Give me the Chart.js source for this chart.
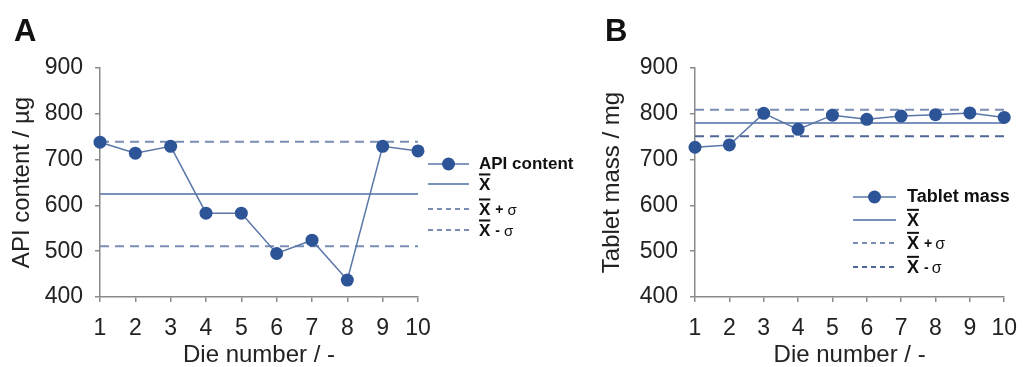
<!DOCTYPE html>
<html>
<head>
<meta charset="utf-8">
<script src="https://cdn.jsdelivr.net/npm/chart.js@4.4.1/dist/chart.umd.min.js"></script>
<style>
    html, body { margin: 0; padding: 0; background: #fff; }
    #wrap { position: relative; width: 1030px; height: 367px; overflow: hidden; }
    #chart-a { position: absolute; left: 0; top: 0; }
    #chart-b { position: absolute; left: 515px; top: 0; }
</style>
</head>
<body>
<div id="wrap">
    <canvas id="chart-a" width="600" height="367"></canvas>
    <canvas id="chart-b" width="515" height="367"></canvas>
</div>
<script>
// Data
const dieNumbers = [1, 2, 3, 4, 5, 6, 7, 8, 9, 10];
const apiContent = [738, 714, 729, 583, 583, 495, 524, 437, 729, 719];
const apiMean = 625;
const apiPlusSigma = 739;
const apiMinusSigma = 511;
const tabletMass = [727, 732, 801, 766, 797, 788, 795, 798, 802, 792];
const massMean = 780;
const massPlusSigma = 809;
const massMinusSigma = 751;
const yMin = 400;
const yMax = 900;
const yStep = 100;

const FONT = '"Liberation Sans", Arial, sans-serif';
const POINT_BLUE = '#2d5497';
const LINE_BLUE = '#5a77a8';
const MEAN_BLUE = '#4c6ea6';
const DASH_BLUE = '#7a8db5';
const AXIS_GREY = '#8a8a8a';

function toPoints(values) {
    return values.map((v, i) => ({ x: dieNumbers[i], y: v }));
}

function flatLine(value) {
    return [{ x: dieNumbers[0], y: value }, { x: dieNumbers[dieNumbers.length - 1], y: value }];
}

function makeDatasets(label, values, mean, plus, minus, minusColor) {
    return [
        {
            label: label,
            data: toPoints(values),
            borderColor: LINE_BLUE,
            borderWidth: 1.5,
            backgroundColor: POINT_BLUE,
            pointBackgroundColor: POINT_BLUE,
            pointBorderColor: POINT_BLUE,
            pointRadius: 6.5,
            pointBorderWidth: 0,
            clip: false,
            order: 0
        },
        { label: 'mean', data: flatLine(mean), borderColor: MEAN_BLUE, borderWidth: 1.6, pointRadius: 0, clip: false, order: 1 },
        { label: 'plus', data: flatLine(plus), borderColor: DASH_BLUE, borderWidth: 2, borderDash: [9, 6], pointRadius: 0, clip: false, order: 1 },
        { label: 'minus', data: flatLine(minus), borderColor: minusColor, borderWidth: 2, borderDash: [9, 6], pointRadius: 0, clip: false, order: 1 }
    ];
}

function makeScales(yTitle, yWidth) {
    return {
        x: {
            type: 'linear',
            min: 1,
            max: 10,
            ticks: { stepSize: 1, font: { size: 23, family: FONT }, color: '#222', padding: 13, maxRotation: 0 },
            grid: { drawOnChartArea: false, tickLength: 5, color: AXIS_GREY, lineWidth: 1.5 },
            border: { color: AXIS_GREY, width: 1.5 },
            title: { display: true, text: 'Die number / -', font: { size: 24, family: FONT, lineHeight: 1 }, color: '#222', padding: { top: 0, bottom: 0 } },
            afterFit: function(scale) { scale.height = 70; }
        },
        y: {
            min: yMin,
            max: yMax,
            ticks: { stepSize: yStep, font: { size: 23, family: FONT }, color: '#222', padding: 12 },
            grid: { drawOnChartArea: false, tickLength: 5, color: AXIS_GREY, lineWidth: 1.5 },
            border: { color: AXIS_GREY, width: 1.5 },
            title: { display: true, text: yTitle, font: { size: 24, family: FONT, lineHeight: 1 }, color: '#222', padding: { top: 0, bottom: 10 } },
            afterFit: function(scale) { scale.width = yWidth; }
        }
    };
}

// Panel letter and a hand drawn legend (the X-bar labels need an overline)
const panelDecor = {
    id: 'panelDecor',
    afterDraw(chart, args, opts) {
        const ctx = chart.ctx;
        ctx.save();
        ctx.fillStyle = '#111';
        ctx.font = 'bold 31px ' + FONT;
        ctx.textBaseline = 'alphabetic';
        ctx.fillText(opts.letter, opts.letterX, 41);

        const lg = opts.legend;
        lg.rows.forEach(row => {
            const ds = chart.data.datasets[row.ds];
            ctx.strokeStyle = ds.borderColor;
            ctx.lineWidth = ds.borderWidth;
            ctx.setLineDash(ds.borderDash ? [5, 4] : []);
            ctx.beginPath();
            ctx.moveTo(lg.x0, row.y);
            ctx.lineTo(lg.x1, row.y);
            ctx.stroke();
            ctx.setLineDash([]);
            if (ds.pointRadius > 0) {
                ctx.fillStyle = ds.pointBackgroundColor;
                ctx.beginPath();
                ctx.arc((lg.x0 + lg.x1) / 2, row.y, ds.pointRadius, 0, Math.PI * 2);
                ctx.fill();
            }
            ctx.fillStyle = '#111';
            ctx.textBaseline = 'middle';
            if (row.text) {
                ctx.font = 'bold ' + lg.size + 'px ' + FONT;
                ctx.fillText(row.text, lg.tx, row.y);
            } else {
                ctx.font = 'bold ' + lg.size + 'px ' + FONT;
                const w = ctx.measureText('X').width;
                ctx.fillText('X', lg.tx, row.y + 1);
                ctx.fillRect(lg.tx, row.y - lg.size * 0.62, w, 2);
                if (row.suffix) {
                    let x = lg.tx + w + lg.gap;
                    ctx.font = 'bold ' + Math.round(lg.size * 0.8) + 'px ' + FONT;
                    ctx.fillText(row.suffix, x, row.y + 1);
                    x += ctx.measureText(row.suffix).width + lg.sigmaGap;
                    ctx.font = Math.round(lg.size * 0.9) + 'px ' + FONT;
                    ctx.fillText('\u03c3', x, row.y + 2);
                }
            }
        });
        ctx.restore();
    }
};

function baseOptions(padding, scales, decor) {
    return {
        responsive: false,
        animation: false,
        layout: { padding: padding },
        scales: scales,
        plugins: {
            legend: { display: false },
            tooltip: { enabled: false },
            panelDecor: decor
        }
    };
}

new Chart(document.getElementById('chart-a').getContext('2d'), {
    type: 'line',
    data: { datasets: makeDatasets('API content', apiContent, apiMean, apiPlusSigma, apiMinusSigma, DASH_BLUE) },
    options: baseOptions(
        { left: 10, right: 182, top: 68, bottom: 0 },
        makeScales('API content / \u00b5g', 90),
        {
            letter: 'A', letterX: 14,
            legend: {
                x0: 428, x1: 469, tx: 479, size: 17, gap: 5, sigmaGap: 4,
                rows: [
                    { ds: 0, y: 164, text: 'API content' },
                    { ds: 1, y: 184 },
                    { ds: 2, y: 209, suffix: '+' },
                    { ds: 3, y: 230, suffix: '-', }
                ]
            }
        }
    ),
    plugins: [panelDecor]
});

new Chart(document.getElementById('chart-b').getContext('2d'), {
    type: 'line',
    data: { datasets: makeDatasets('Tablet mass', tabletMass, massMean, massPlusSigma, massMinusSigma, '#4f6796') },
    options: baseOptions(
        { left: 85, right: 17, top: 68, bottom: 0 },
        makeScales('Tablet mass / mg', 95),
        {
            letter: 'B', letterX: 90,
            legend: {
                x0: 338, x1: 381, tx: 392, size: 18, gap: 5, sigmaGap: 3,
                rows: [
                    { ds: 0, y: 197, text: 'Tablet mass' },
                    { ds: 1, y: 220 },
                    { ds: 2, y: 243, suffix: '+' },
                    { ds: 3, y: 267, suffix: '-' }
                ]
            }
        }
    ),
    plugins: [panelDecor]
});
</script>
</body>
</html>
